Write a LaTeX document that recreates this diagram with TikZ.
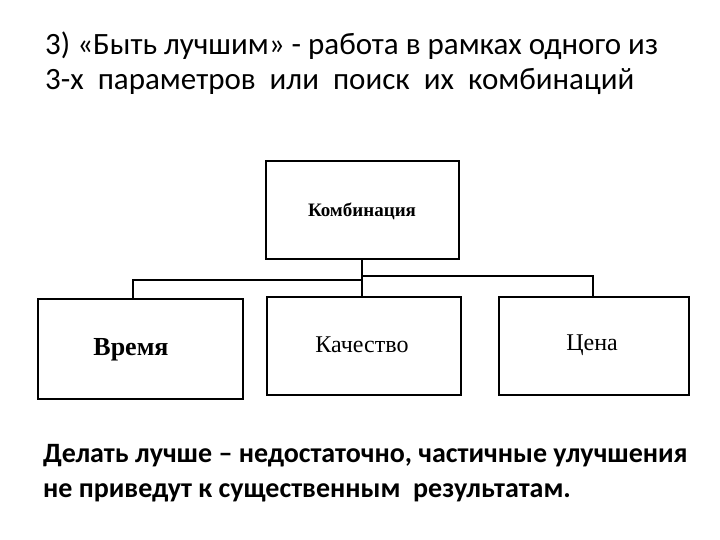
\documentclass[tikz,border=0pt]{standalone}
\usepackage{fontspec}
\setmainfont{Liberation Serif}
\newfontfamily\carlitofont{Carlito}
\begin{document}
\begin{tikzpicture}[x=1pt,y=-1pt,
  bx/.style={draw,line width=1.6pt,anchor=north west,inner sep=0pt},
  ln/.style={line width=1.6pt},
  ttl/.style={anchor=base west,inner sep=0pt,font=\carlitofont\fontsize{31}{36}\selectfont},
  btm/.style={anchor=base west,inner sep=0pt,font=\carlitofont\bfseries\fontsize{28}{32}\selectfont}]
\useasboundingbox (0,0) rectangle (720,540);
\node[ttl] (t1) at (45,55) {3) «Быть лучшим» - работа в рамках одного из};
\node[ttl] (t2) at (45,90) {3-х\ \ параметров\ \ или\ \ поиск\ \ их\ \ комбинаций};
\node[bx,minimum width=193pt,minimum height=98pt] (k) at (265,160) {};
\node[font=\bfseries\fontsize{19}{22}\selectfont] (kl) at (362,211) {Комбинация};
\node[bx,minimum width=205pt,minimum height=100pt] (v) at (37,298) {};
\node[font=\bfseries\fontsize{26}{30}\selectfont] (vl) at (131,350) {Время};
\node[bx,minimum width=194pt,minimum height=98pt] (q) at (266,296) {};
\node[font=\fontsize{24}{28}\selectfont] (ql) at (362,345) {Качество};
\node[bx,minimum width=190pt,minimum height=98pt] (c) at (498,296) {};
\node[font=\fontsize{24}{28}\selectfont] (cl) at (592,345) {Цена};
\coordinate (m) at (362,258);
\draw[ln] (m) -- (362,296);
\draw[ln] (362,280) -- (133,280) -- (133,298);
\draw[ln] (362,276) -- (593,276) -- (593,296);
\node[btm] (b1) at (43,462) {Делать лучше – недостаточно, частичные улучшения};
\node[btm] (b2) at (43,497) {не приведут к существенным\ \ результатам.};
\end{tikzpicture}
\end{document}
